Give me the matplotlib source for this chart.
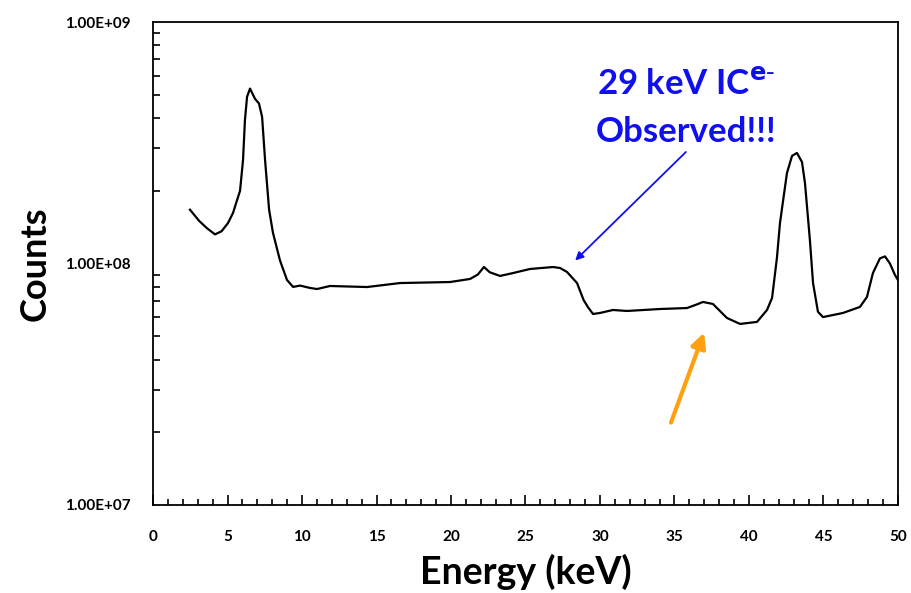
import matplotlib
matplotlib.use("Agg")
import matplotlib.pyplot as plt
from matplotlib.ticker import FixedLocator, MultipleLocator, LogLocator, FuncFormatter, NullFormatter

plt.rcParams["font.family"] = ["Lato", "DejaVu Sans"]

# spectrum (energy in keV, counts)
energy = [2.48, 3.10, 3.62, 4.16, 4.60, 5.03, 5.37, 5.64, 5.84, 6.04, 6.17, 6.31,
          6.51, 6.85, 7.11, 7.32, 7.52, 7.79, 8.05, 8.52, 8.99, 9.40, 9.87, 10.54,
          11.01, 11.88, 14.36, 16.58, 19.93, 21.28, 21.80, 22.21, 22.60, 23.29, 24.16,
          25.30, 26.85, 27.32, 27.79, 28.46, 28.90, 29.19, 29.53, 30.00, 30.87, 31.81,
          34.03, 35.84, 36.45, 36.91, 37.58, 38.52, 39.40, 40.54, 41.21, 41.55, 41.88,
          42.08, 42.55, 42.89, 43.22, 43.56, 43.76, 44.09, 44.30, 44.63, 44.97, 46.31,
          47.45, 47.92, 48.32, 48.79, 49.13, 49.46, 49.80, 50.00]
counts = [1.67e8, 1.50e8, 1.40e8, 1.32e8, 1.36e8, 1.47e8, 1.62e8, 1.83e8, 2.00e8, 2.68e8,
          3.93e8, 4.90e8, 5.30e8, 4.80e8, 4.60e8, 4.05e8, 2.68e8, 1.67e8, 1.34e8, 1.03e8,
          8.55e7, 8.00e7, 8.10e7, 7.92e7, 7.84e7, 8.07e7, 7.99e7, 8.30e7, 8.38e7, 8.63e7,
          9.00e7, 9.67e7, 9.20e7, 8.88e7, 9.13e7, 9.49e7, 9.67e7, 9.58e7, 9.22e7, 8.30e7,
          7.06e7, 6.60e7, 6.18e7, 6.24e7, 6.42e7, 6.36e7, 6.48e7, 6.54e7, 6.75e7, 6.93e7,
          6.80e7, 5.95e7, 5.62e7, 5.73e7, 6.42e7, 7.20e7, 1.06e8, 1.47e8, 2.37e8, 2.79e8,
          2.87e8, 2.63e8, 2.15e8, 1.25e8, 8.30e7, 6.31e7, 6.00e7, 6.24e7, 6.61e7, 7.27e7,
          9.13e7, 1.05e8, 1.07e8, 1.00e8, 8.96e7, 8.55e7]

x_ticks = [0, 5, 10, 15, 20, 25, 30, 35, 40, 45, 50]
y_ticks = [1e7, 1e8, 1e9]

fig = plt.figure(figsize=(9.12, 5.93), dpi=100)
ax = fig.add_axes([0.1678, 0.1484, 0.8168, 0.8145])

ax.plot(energy, counts, color="black", lw=1.6, solid_joinstyle="round")

ax.set_yscale("log")
ax.set_xlim(0, 50)
ax.set_ylim(1e7, 1e9)

ax.xaxis.set_major_locator(FixedLocator(x_ticks))
ax.xaxis.set_minor_locator(MultipleLocator(1))
ax.yaxis.set_major_locator(FixedLocator(y_ticks))
ax.yaxis.set_minor_locator(LogLocator(base=10, subs=range(2, 10)))
ax.yaxis.set_minor_formatter(NullFormatter())
ax.yaxis.set_major_formatter(FuncFormatter(lambda v, p: f"{v:.2E}"))

ax.tick_params(axis="both", which="both", direction="in", top=False, right=False)
ax.tick_params(axis="x", which="major", length=7, width=1.2, pad=18)
ax.tick_params(axis="x", which="minor", length=4, width=1.2)
ax.tick_params(axis="y", which="major", length=0, pad=16)
ax.tick_params(axis="y", which="minor", length=5, width=1.2)
for lbl in ax.get_xticklabels() + ax.get_yticklabels():
    lbl.set_fontweight("bold")
    lbl.set_fontsize(11)

for s in ax.spines.values():
    s.set_linewidth(1.3)

ax.set_xlabel("Energy (keV)", fontsize=27, fontweight="bold", labelpad=7)
ax.set_ylabel("Counts", fontsize=26, fontweight="bold", labelpad=10)

ax.text(35.8, 4.4e8, "29 keV IC$^{\\mathbf{e\\text{-}}}$\nObserved!!!", color="#1010EE",
        fontsize=25, fontweight="bold", ha="center", va="center", linespacing=1.6)

ax.annotate("", xy=(28.2, 1.01e8), xytext=(35.9, 2.95e8),
            arrowprops=dict(arrowstyle="-|>", color="#1010EE", lw=1.3, mutation_scale=12))
ax.annotate("", xy=(37.05, 5.3e7), xytext=(34.7, 2.14e7),
            arrowprops=dict(arrowstyle="-|>", color="#FFA010", lw=3, mutation_scale=22))

fig.savefig("out.png", dpi=100)
